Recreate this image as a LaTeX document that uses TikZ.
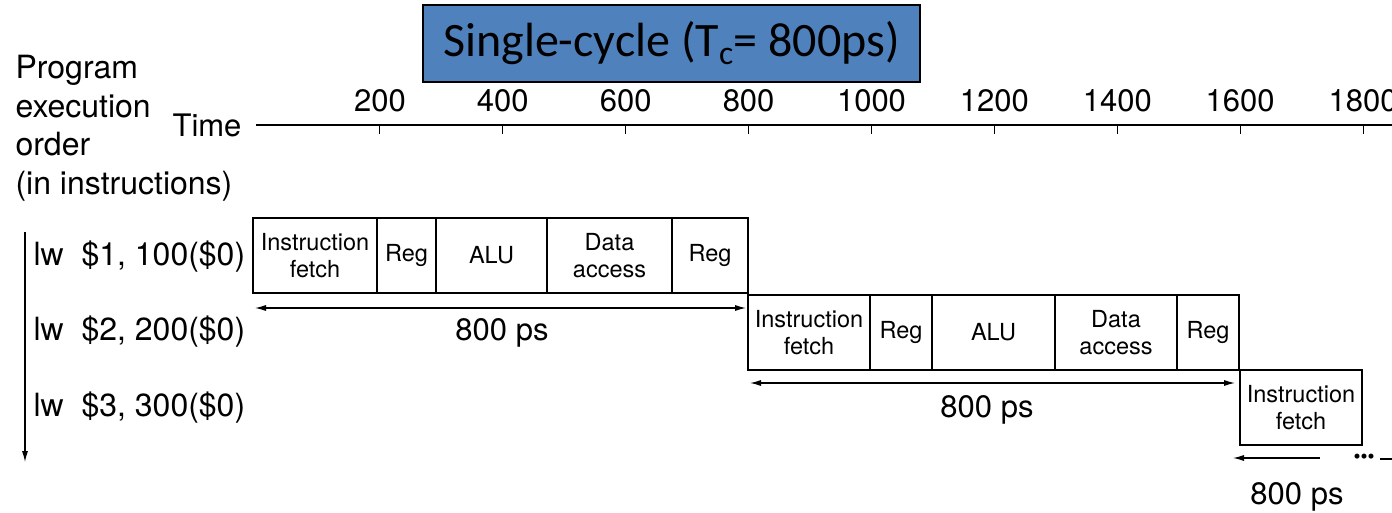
\documentclass[tikz,border=0pt]{standalone}
\usepackage{fontspec}
\setmainfont{TeX Gyre Heros}
\newfontfamily\titlefont{Carlito}
\usepackage{tikz}
\usetikzlibrary{arrows.meta,calc,positioning}
\definecolor{titleblue}{RGB}{79,129,189}

\begin{document}
\begin{tikzpicture}[x=1pt,y=-1pt,>={Latex[length=11pt,width=6pt]},line width=1.1pt]
	\tikzstyle{stage} = [draw, rectangle, minimum height=75pt, inner sep=0pt, outer sep=0pt, align=center, font=\fontsize{23.5}{27}\selectfont]
	\tikzstyle{lbl} = [inner sep=0pt, font=\fontsize{31}{38.5}\selectfont]
	\tikzstyle{instr} = [inner sep=0pt, anchor=west, font=\fontsize{32}{38.5}\selectfont]

	\useasboundingbox (0,0) rectangle (1392,513);
	\clip (0,0) rectangle (1392,513);

	\node [draw, fill=titleblue, minimum width=497pt, minimum height=77pt, inner sep=0pt, font=\titlefont\fontsize{48}{56}\selectfont] (title) at (671.5,43.5) {Single-cycle (T\textsubscript{c}= 800ps)};

	% time axis
	\node [instr, align=left] (order) at (15,128) {Program\\execution\\order\\(in instructions)};
	\node [lbl] (time) at (207,125) {Time};
	\coordinate (axisend) at (1400,125);
	\draw ([xshift=14pt]time.east) -- (axisend);
	\foreach \t [count=\i] in {200,400,...,1800} {
		\draw (257+122.9*\i,125) -- ++(0,9);
		\node [lbl] (tick\i) at (257+122.9*\i,101) {\t};
	}

	% instructions
	\node [instr] (ins1) at (33,257) {lw\ \ \$1, 100(\$0)};
	\node [instr] (ins2) at (33,332) {lw\ \ \$2, 200(\$0)};
	\node [instr] (ins3) at (33,408) {lw\ \ \$3, 300(\$0)};
	\coordinate (ordtop) at (25,232);
	\coordinate (ordbot) at (25,462);
	\draw [->] (ordtop) -- (ordbot);

	% first lw
	\node [stage, minimum width=124pt, anchor=north west] (if1) at (253,218) {Instruction\\fetch};
	\node [stage, minimum width=59pt, right = 0pt of if1] (rr1) {Reg};
	\node [stage, minimum width=111pt, right = 0pt of rr1] (alu1) {ALU};
	\node [stage, minimum width=125pt, right = 0pt of alu1] (mem1) {Data\\access};
	\node [stage, minimum width=76pt, right = 0pt of mem1] (wb1) {Reg};

	% second lw
	\node [stage, minimum width=122pt, anchor=north west] (if2) at (748,295) {Instruction\\fetch};
	\node [stage, minimum width=62pt, right = 0pt of if2] (rr2) {Reg};
	\node [stage, minimum width=123pt, right = 0pt of rr2] (alu2) {ALU};
	\node [stage, minimum width=122pt, right = 0pt of alu2] (mem2) {Data\\access};
	\node [stage, minimum width=62pt, right = 0pt of mem2] (wb2) {Reg};

	% third lw
	\node [stage, minimum width=122pt, anchor=north west] (if3) at (1240,370) {Instruction\\fetch};

	% cycle lengths
	\coordinate (c1a) at ($(if1.south west)+(2,15)$);
	\coordinate (c1b) at ($(wb1.south east)+(-2,15)$);
	\draw [<->] (c1a) -- (c1b);
	\node [lbl] (len1) at (502,333) {800 ps};

	\coordinate (c2a) at ($(if2.south west)+(2,13)$);
	\coordinate (c2b) at ($(wb2.south east)+(-4,13)$);
	\draw [<->] (c2a) -- (c2b);
	\node [lbl] (len2) at (987,410) {800 ps};

	\coordinate (c3a) at ($(if3.south west)+(-7,13)$);
	\coordinate (c3b) at ($(if3.south west)+(80,13)$);
	\draw [->] (c3b) -- (c3a);
	\node [inner sep=0pt, font=\fontsize{20}{20}\selectfont] (dots) at (1364,459) {\textbullet\textbullet\textbullet};
	\coordinate (c3c) at (1410,459);
	\draw ([xshift=5pt]dots.east) -- (c3c);
	\node [lbl] (len3) at (1297,497) {800 ps};

\end{tikzpicture}
\end{document}
